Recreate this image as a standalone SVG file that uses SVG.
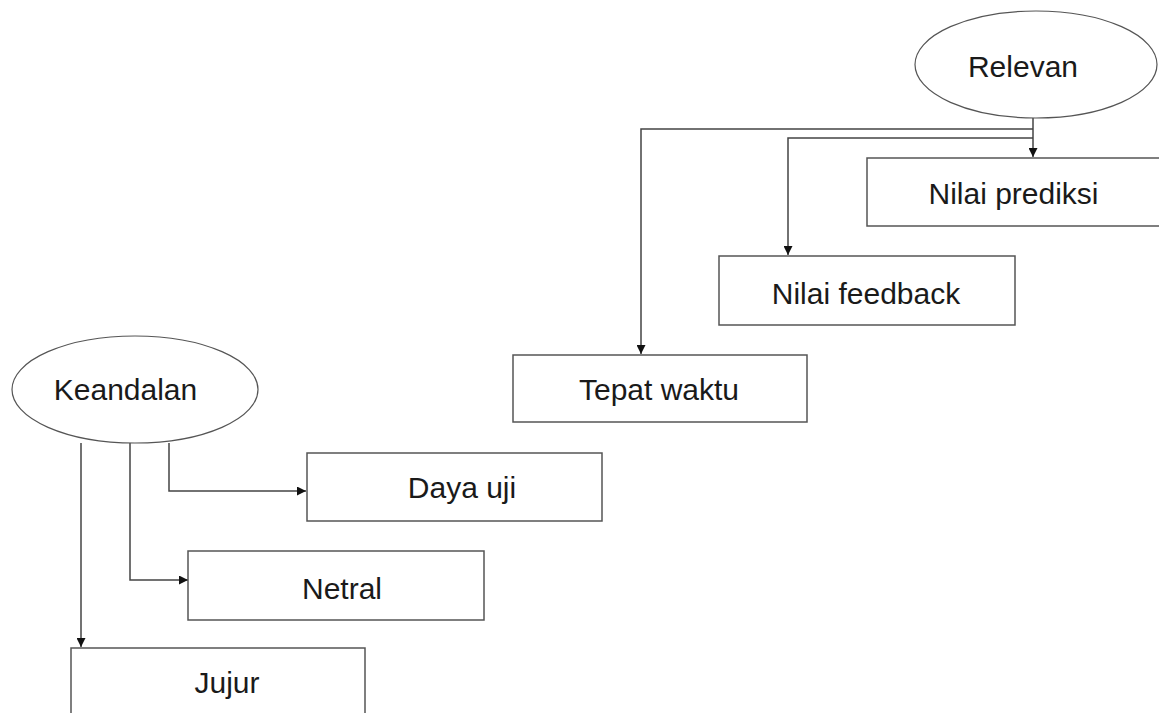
<svg xmlns="http://www.w3.org/2000/svg" width="1159" height="713" viewBox="0 0 1159 713">
<style>
.box{fill:#fff;stroke:#555;stroke-width:1.5}
.ell{fill:#fff;stroke:#555;stroke-width:1.2}
.lbl{font-family:"Liberation Sans",Arial,sans-serif;font-size:30px;fill:#1a1a1a;text-anchor:middle}
.con{fill:none;stroke:#444;stroke-width:1.5}
</style>
<defs>
<marker id="arr" viewBox="0 0 10 10" refX="10" refY="5" markerWidth="9" markerHeight="9" markerUnits="userSpaceOnUse" orient="auto">
<path d="M0,0 L10,5 L0,10 Z" fill="#111"/>
</marker>
</defs>
<rect width="1159" height="713" fill="#fff"/>
<g id="connectors">
<path class="con" d="M1033,118 V157" marker-end="url(#arr)"/>
<path class="con" d="M1033,129 H641 V354" marker-end="url(#arr)"/>
<path class="con" d="M1033,138 H788 V255" marker-end="url(#arr)"/>
<path class="con" d="M169,443 V491 H306" marker-end="url(#arr)"/>
<path class="con" d="M130,443 V580 H188" marker-end="url(#arr)"/>
<path class="con" d="M81,443 V647" marker-end="url(#arr)"/>
</g>
<g id="relevan">
<ellipse class="ell" cx="1036" cy="64.5" rx="121" ry="53.5"/>
<text class="lbl" x="1023" y="77">Relevan</text>
</g>
<g id="nilai-prediksi">
<rect class="box" x="867" y="158" width="294" height="68"/>
<text class="lbl" x="1013.5" y="204">Nilai prediksi</text>
</g>
<g id="nilai-feedback">
<rect class="box" x="719" y="256" width="296" height="69"/>
<text class="lbl" x="866" y="304">Nilai feedback</text>
</g>
<g id="tepat-waktu">
<rect class="box" x="513" y="355" width="294" height="67"/>
<text class="lbl" x="659" y="400">Tepat waktu</text>
</g>
<g id="keandalan">
<ellipse class="ell" cx="135" cy="389.5" rx="123" ry="53.5"/>
<text class="lbl" x="125.5" y="400">Keandalan</text>
</g>
<g id="daya-uji">
<rect class="box" x="307" y="453" width="295" height="68"/>
<text class="lbl" x="462" y="498">Daya uji</text>
</g>
<g id="netral">
<rect class="box" x="188" y="551" width="296" height="69"/>
<text class="lbl" x="342" y="599">Netral</text>
</g>
<g id="jujur">
<rect class="box" x="71" y="648" width="294" height="80"/>
<text class="lbl" x="227" y="693">Jujur</text>
</g>
</svg>
